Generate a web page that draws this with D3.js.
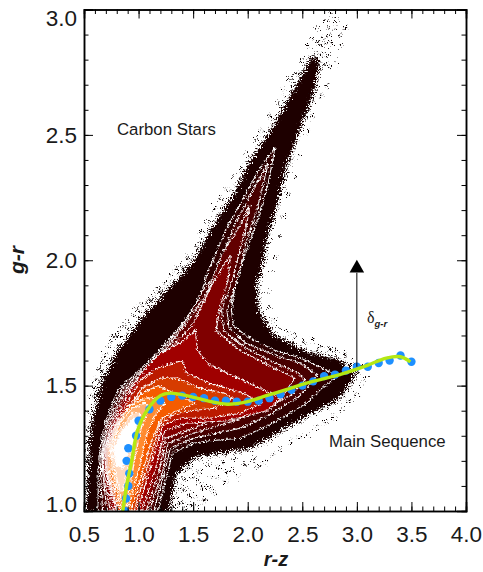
<!DOCTYPE html>
<html>
<head>
<meta charset="utf-8">
<script src="https://cdn.jsdelivr.net/npm/d3@7"></script>
<style>
  html, body { margin: 0; padding: 0; background: #fff; }
  svg { display: block; }
  text { font-family: "Liberation Sans", Arial, sans-serif; fill: #1a1a1a; }
</style>
</head>
<body>
<div id="chart"></div>
<script>
var width = 483;
var height = 572;

var xTicks = [0.5, 1.0, 1.5, 2.0, 2.5, 3.0, 3.5, 4.0];
var yTicks = [1.0, 1.5, 2.0, 2.5, 3.0];
var xMinor = d3.range(5, 41).map(function(d) { return d / 10; });
var yMinor = d3.range(10, 31).map(function(d) { return d / 10; });

// density outlines, [r-z, g-r], outermost first
var level0 = [[.53,1],[.55,1.16],[.57,1.33],[.67,1.51],[.82,1.64],[1.06,1.78],[1.34,1.91],[1.52,2.00],[1.70,2.14],[1.89,2.27],[2.04,2.40],[2.20,2.50],[2.42,2.67],[2.52,2.75],[2.58,2.80],[2.65,2.80],[2.60,2.68],[2.46,2.51],[2.34,2.37],[2.25,2.21],[2.18,2.11],[2.12,1.97],[2.07,1.90],[2.09,1.80],[2.23,1.70],[2.54,1.63],[2.83,1.60],[2.98,1.55],[2.83,1.45],[2.52,1.38],[2.21,1.30],[2.00,1.25],[1.81,1.24],[1.52,1.22],[1.34,1.15],[1.27,1]];
var level1 = [[.63,1],[.63,1.16],[.64,1.23],[.69,1.35],[.81,1.48],[1.17,1.63],[1.41,1.75],[1.56,1.85],[1.64,1.96],[1.81,2.13],[2.09,2.35],[2.25,2.45],[2.18,2.29],[2.09,2.16],[1.99,2.04],[1.89,1.92],[1.85,1.80],[1.87,1.74],[1.98,1.70],[2.25,1.64],[2.48,1.61],[2.68,1.57],[2.83,1.54],[2.68,1.49],[2.54,1.43],[2.23,1.35],[1.93,1.29],[1.65,1.28],[1.50,1.27],[1.31,1.23],[1.27,1.16],[1.18,1]];
var level2 = [[.67,1],[.65,1.16],[.66,1.23],[.71,1.35],[.84,1.48],[1.20,1.63],[1.45,1.77],[1.59,1.88],[1.68,1.93],[1.90,2.16],[2.11,2.33],[2.19,2.39],[2.09,2.21],[1.99,2.08],[1.91,1.93],[1.81,1.80],[1.83,1.73],[1.98,1.67],[2.25,1.62],[2.48,1.59],[2.64,1.54],[2.48,1.46],[2.23,1.39],[1.93,1.33],[1.50,1.29],[1.29,1.25],[1.24,1.16],[1.14,1]];
var level3 = [[.71,1],[.67,1.16],[.67,1.23],[.73,1.35],[.87,1.48],[1.24,1.64],[1.49,1.78],[1.64,1.88],[1.76,2.02],[1.93,2.14],[2.02,2.22],[1.99,2.14],[1.93,2.04],[1.86,1.92],[1.76,1.80],[1.78,1.72],[1.98,1.65],[2.25,1.59],[2.46,1.55],[2.53,1.52],[2.39,1.46],[2.16,1.41],[1.88,1.36],[1.50,1.31],[1.27,1.27],[1.22,1.16],[1.10,1]];
var level4 = [[.74,1],[.68,1.16],[.68,1.23],[.75,1.35],[.89,1.48],[1.29,1.65],[1.49,1.74],[1.67,1.90],[1.78,1.98],[1.84,2.02],[1.82,1.92],[1.75,1.82],[1.71,1.72],[1.93,1.64],[2.20,1.58],[2.43,1.53],[2.34,1.47],[2.11,1.43],[1.84,1.39],[1.50,1.33],[1.25,1.29],[1.19,1.16],[1.07,1]];
var level5 = [[.77,1],[.70,1.16],[.69,1.25],[.77,1.35],[.92,1.48],[1.04,1.56],[1.20,1.63],[1.38,1.67],[1.52,1.72],[1.54,1.64],[1.63,1.59],[1.81,1.55],[2.11,1.49],[2.31,1.45],[2.18,1.40],[1.81,1.36],[1.44,1.35],[1.24,1.32],[1.15,1.16],[1.03,1]];
var level6 = [[.80,1],[.70,1.16],[.70,1.25],[.79,1.35],[.96,1.48],[1.01,1.52],[1.17,1.57],[1.40,1.60],[1.44,1.55],[1.65,1.51],[1.96,1.47],[2.13,1.43],[1.93,1.39],[1.65,1.37],[1.38,1.37],[1.22,1.34],[1.10,1.16],[.99,1]];
var level7 = [[.81,1],[.71,1.16],[.71,1.25],[.80,1.35],[.98,1.46],[1.03,1.49],[1.20,1.53],[1.36,1.53],[1.56,1.49],[1.79,1.47],[1.86,1.45],[1.70,1.41],[1.47,1.40],[1.31,1.38],[1.20,1.35],[1.07,1.16],[.96,1]];
var level8 = [[.83,1],[.72,1.16],[.72,1.25],[.81,1.35],[.99,1.45],[1.03,1.47],[1.18,1.50],[1.33,1.47],[1.52,1.43],[1.36,1.40],[1.21,1.37],[1.12,1.28],[1.04,1.16],[.93,1]];
var level9 = [[.85,1],[.74,1.16],[.73,1.25],[.82,1.35],[.92,1.42],[1.06,1.45],[1.20,1.45],[1.24,1.43],[1.15,1.38],[1.08,1.31],[1.0,1.16],[.90,1]];
var level10 = [[.87,1],[.76,1.16],[.74,1.25],[.83,1.35],[.94,1.41],[1.06,1.43],[1.10,1.41],[1.03,1.34],[.97,1.22],[.93,1.12],[.89,1]];
var level11 = [[.83,1.08],[.77,1.18],[.75,1.25],[.84,1.33],[.94,1.39],[1.01,1.39],[.99,1.32],[.93,1.22],[.89,1.14],[.86,1.08]];
var level12 = [[.80,1.18],[.77,1.25],[.85,1.32],[.95,1.37],[.99,1.37],[.95,1.28],[.89,1.21],[.85,1.17]];

var levels = [level1, level2, level3, level4, level5, level6, level7, level8, level9, level10, level11, level12];
var levelColors = ["#300000", "#480000", "#620000", "#800000", "#a00000", "#bb1a00", "#d63c00", "#f55c00", "#ff8a30", "#ffb070", "#ffd8bc", "#ffffff"];

// stray pixels hugging the body, read by eye
var speckles = [[.50,1.04],[.51,1.12],[.51,1.20],[.52,1.28],[.52,1.34],[.53,1.40],[.56,1.46],[.58,1.50],[.60,1.53],[.59,1.47],[.62,1.57],[.64,1.58],[.66,1.60],[.69,1.63],[.71,1.66],[.73,1.68],[.76,1.70],[.79,1.71],[.82,1.70],[.85,1.74],[.88,1.76],[.90,1.74],[.94,1.78],[.97,1.81],[1.00,1.80],[1.02,1.83],[1.06,1.84],[1.10,1.85],[1.14,1.88],[1.18,1.89],[1.24,1.91],[1.28,1.95],[1.33,1.97],[1.38,1.98],[1.44,2.02],[1.50,2.06],[1.56,2.12],[1.62,2.16],[1.68,2.21],[1.74,2.25],[1.80,2.29],[1.86,2.34],[1.92,2.37],[1.98,2.43],[2.06,2.49],[2.12,2.52],[2.20,2.58],[2.26,2.63],[2.32,2.68],[2.38,2.73],[2.44,2.75],[2.48,2.80],[2.54,2.86],[2.58,2.89],[2.63,2.93],[2.70,2.96],[2.76,2.99],[2.88,2.93],[2.84,2.86],[2.80,2.80],[2.72,2.70],[2.66,2.66],[2.58,2.58],[2.54,2.52],[2.46,2.42],[2.42,2.34],[2.36,2.27],[2.32,2.18],[2.28,2.10],[2.24,2.02],[2.20,1.96],[2.16,1.88],[2.18,1.82],[2.22,1.77],[2.28,1.74],[2.34,1.72],[2.42,1.70],[2.50,1.68],[2.58,1.69],[2.66,1.66],[2.74,1.65],[2.80,1.65],[2.88,1.63],[2.95,1.60],[3.04,1.58],[3.07,1.53],[3.03,1.50],[2.98,1.47],[2.92,1.44],[2.85,1.41],[2.78,1.38],[2.70,1.36],[2.62,1.34],[2.54,1.31],[2.46,1.30],[2.38,1.28],[2.30,1.25],[2.22,1.23],[2.14,1.20],[2.08,1.18],[2.04,1.21],[1.96,1.19],[1.90,1.14],[1.84,1.17],[1.78,1.12],[1.72,1.18],[1.66,1.14],[1.62,1.19],[1.58,1.10],[1.55,1.16],[1.50,1.06],[1.48,1.14],[1.44,1.02],[1.42,1.09],[1.39,1.04],[1.37,1.10],[1.46,1.18],[1.52,1.02],[1.60,1.05],[1.68,1.08],[1.34,1.06],[1.32,1.02],[1.76,1.20],[1.86,1.21],[1.41,1.13],[1.45,1.07],[1.53,1.12],[1.57,1.04],[1.64,1.10],[1.70,1.14],[1.80,1.16],[1.36,1.03],[1.40,1.00],[1.47,1.03],[2.62,2.84],[2.66,2.83],[2.70,2.86],[2.64,2.87],[2.72,2.82],[2.68,2.89],[2.74,2.90],[2.78,2.93],[2.72,2.93],[2.80,2.96],[2.83,2.90],[2.76,2.87],[2.60,2.82],[2.69,2.79],[2.74,2.78]];

var dotX = [.876, .885, .906, .915, .89, .906, .977, 1.0, 1.1, 1.2, 1.3, 1.4, 1.5, 1.6, 1.7, 1.8, 1.9, 2.0, 2.1, 2.2, 2.3, 2.4, 2.5, 2.6, 2.7, 2.8, 2.9, 3.0, 3.1, 3.2, 3.3, 3.4, 3.5];
var dotY = [1.0, 1.05, 1.10, 1.15, 1.20, 1.25, 1.30, 1.36, 1.406, 1.44, 1.455, 1.46, 1.455, 1.45, 1.44, 1.44, 1.436, 1.436, 1.44, 1.45, 1.465, 1.483, 1.50, 1.517, 1.538, 1.544, 1.56, 1.575, 1.575, 1.59, 1.60, 1.62, 1.595];

var fitX = [.855, .89, .937, .99, 1.075, 1.2, 1.29, 1.44, 1.625, 1.81, 1.99, 2.17, 2.36, 2.54, 2.85, 3.09, 3.27, 3.4, 3.49];
var fitY = [1.0, 1.10, 1.20, 1.32, 1.40, 1.46, 1.47, 1.46, 1.44, 1.426, 1.435, 1.46, 1.485, 1.51, 1.545, 1.58, 1.61, 1.615, 1.595];

var xScale = d3.scaleLinear().domain([0.5, 4.0]).range([84, 466]);
var yScale = d3.scaleLinear().domain([1.0, 3.0]).range([511, 9.5]);

var svg = d3.select("#chart").append("svg")
    .attr("width", width)
    .attr("height", height);

var defs = svg.append("defs");
defs.append("clipPath").attr("id", "plot")
    .append("rect").attr("x", 84).attr("y", 9.5).attr("width", 382).attr("height", 501.5);

// rough edges, the contours in the reference are pixel noisy
function noiseFilter(id, freq, seed, scale) {
    var f = defs.append("filter").attr("id", id)
        .attr("x", "-5%").attr("y", "-5%").attr("width", "110%").attr("height", "110%")
        .attr("color-interpolation-filters", "sRGB");
    f.append("feTurbulence").attr("type", "fractalNoise").attr("baseFrequency", freq).attr("numOctaves", 2).attr("seed", seed).attr("result", "n");
    f.append("feDisplacementMap").attr("in", "SourceGraphic").attr("in2", "n").attr("scale", scale)
        .attr("xChannelSelector", "R").attr("yChannelSelector", "G");
}
noiseFilter("rough", 0.8, 4, 14);
noiseFilter("wobble", 0.45, 9, 5);

var plotG = svg.append("g").attr("clip-path", "url(#plot)");

var line = d3.line()
    .x(function(d) { return xScale(d[0]); })
    .y(function(d) { return yScale(d[1]); });

var outerG = plotG.append("g").attr("filter", "url(#rough)");

outerG.append("path")
    .attr("d", line(level0) + "Z")
    .attr("fill", "none")
    .attr("stroke", "#120000")
    .attr("stroke-width", 7)
    .attr("stroke-dasharray", "1 3 2 2 1 4 1.5 2");

outerG.append("path")
    .attr("d", line(level0) + "Z")
    .attr("fill", "#1e0000")
    .attr("stroke", "#1e0000")
    .attr("stroke-width", 1);

outerG.append("g").selectAll("rect")
    .data(speckles)
    .enter()
    .append("rect")
    .attr("x", function(d) { return xScale(d[0]); })
    .attr("y", function(d) { return yScale(d[1]); })
    .attr("width", 2.4)
    .attr("height", 2.4)
    .attr("fill", "#0a0000");

plotG.append("g").attr("filter", "url(#wobble)")
    .selectAll("path")
    .data(levels)
    .enter()
    .append("path")
    .attr("d", function(d) { return line(d) + "Z"; })
    .attr("fill", function(d, i) { return levelColors[i]; })
    .attr("stroke", "#fff")
    .attr("stroke-width", 1.1);

// arrow
svg.append("line")
    .attr("x1", xScale(3.0)).attr("x2", xScale(3.0))
    .attr("y1", yScale(1.575)).attr("y2", yScale(1.95))
    .attr("stroke", "#000").attr("stroke-width", 1);
svg.append("path")
    .attr("d", d3.symbol().type(d3.symbolTriangle).size(92))
    .attr("transform", "translate(" + xScale(3.0) + "," + yScale(1.968) + ")")
    .attr("fill", "#000");

// polynomial fit and binned points
plotG.append("g").selectAll("circle")
    .data(dotX)
    .enter()
    .append("circle")
    .attr("cx", function(d) { return xScale(d); })
    .attr("cy", function(d, i) { return yScale(dotY[i]); })
    .attr("r", 4.2)
    .attr("fill", "#1e90ff");

plotG.append("path")
    .attr("d", d3.line()
        .x(function(d) { return xScale(d); })
        .y(function(d, i) { return yScale(fitY[i]); })
        .curve(d3.curveCatmullRom)(fitX))
    .attr("fill", "none")
    .attr("stroke", "#b4e812")
    .attr("stroke-width", 3.4);

// axes, ticks point inward on all four sides
function styleAxis(g) {
    g.select(".domain").attr("stroke", "#000").attr("stroke-width", 1.5);
    g.selectAll("line").attr("stroke", "#000").attr("stroke-width", 1);
}

function addAxis(axisFn, scale, minor, major, x, y, sign, labelled) {
    svg.append("g")
        .attr("transform", "translate(" + x + "," + y + ")")
        .call(axisFn(scale).tickValues(minor).tickSize(sign * 4.5).tickFormat(""))
        .call(styleAxis);
    var g = svg.append("g")
        .attr("transform", "translate(" + x + "," + y + ")")
        .call(axisFn(scale).tickValues(major).tickSize(sign * 9).tickFormat(labelled ? d3.format(".1f") : ""))
        .call(styleAxis);
    return g;
}

var xAxisG = addAxis(d3.axisBottom, xScale, xMinor, xTicks, 0, 511, -1, true);
xAxisG.selectAll("text")
    .attr("y", 15)
    .attr("dy", "0.72em")
    .style("font-size", "22.5px")
    .style("font-family", "'Liberation Sans', Arial, sans-serif")
    .attr("fill", "#1a1a1a");

addAxis(d3.axisTop, xScale, xMinor, xTicks, 0, 9.5, -1, false);

var yAxisG = addAxis(d3.axisLeft, yScale, yMinor, yTicks, 84, 0, -1, true);
yAxisG.selectAll("text")
    .attr("x", -7)
    .attr("dy", function(d) { return d == 1 ? "0" : d == 3 ? "0.72em" : "0.32em"; })
    .style("font-size", "22.5px")
    .style("font-family", "'Liberation Sans', Arial, sans-serif")
    .attr("fill", "#1a1a1a");

addAxis(d3.axisRight, yScale, yMinor, yTicks, 466, 0, -1, false);

// labels
svg.append("text")
    .attr("x", 276).attr("y", 566)
    .attr("text-anchor", "middle")
    .style("font-size", "20px").style("font-weight", "bold").style("font-style", "italic")
    .text("r-z");

svg.append("text")
    .attr("transform", "translate(24,260) rotate(-90)")
    .attr("text-anchor", "middle")
    .style("font-size", "21px").style("font-weight", "bold").style("font-style", "italic")
    .text("g-r");

svg.append("text")
    .attr("x", 117).attr("y", 135)
    .style("font-size", "16.8px")
    .text("Carbon Stars");

svg.append("text")
    .attr("x", 329).attr("y", 447)
    .style("font-size", "16.8px")
    .text("Main Sequence");

var delta = svg.append("text").attr("x", 367).attr("y", 323);
delta.append("tspan")
    .style("font-family", "'Liberation Serif', serif")
    .style("font-size", "16px")
    .text("δ");
delta.append("tspan")
    .attr("dy", 4)
    .style("font-size", "9.5px").style("font-weight", "bold").style("font-style", "italic")
    .text("g-r");
</script>
</body>
</html>
